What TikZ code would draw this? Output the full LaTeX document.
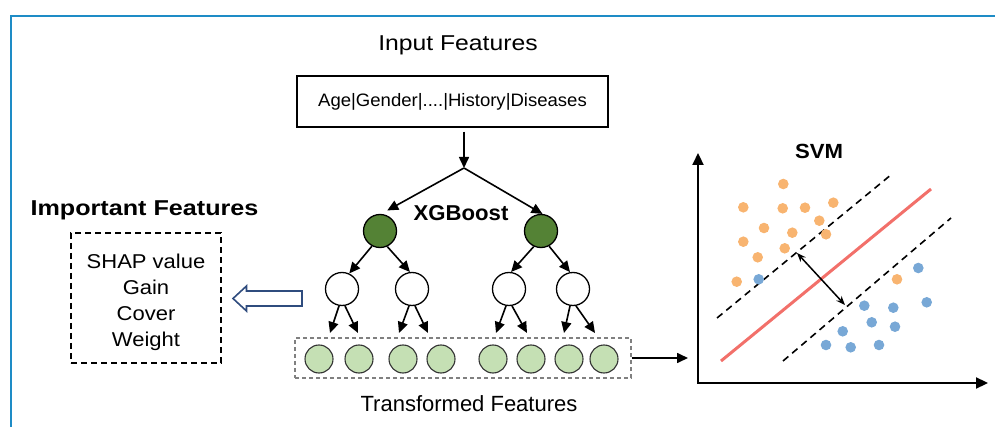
\documentclass[tikz,border=0pt]{standalone}
\usepackage{fontspec}
\usepackage{graphicx}
\setmainfont{Liberation Sans}
\usetikzlibrary{arrows.meta,calc}
\definecolor{frameblue}{HTML}{1E8CC6}
\definecolor{darkgreen}{HTML}{548235}
\definecolor{lightgreen}{HTML}{C5E0B4}
\definecolor{ptorange}{HTML}{F8B470}
\definecolor{ptblue}{HTML}{78A8D6}
\definecolor{svmred}{HTML}{F2706A}
\definecolor{navy}{HTML}{2F4C7E}
\newcommand{\myfs}[1]{\fontsize{#1}{#1}\selectfont}
\begin{document}
\begin{tikzpicture}[x=1pt,y=-1pt,
  txt/.style={inner sep=0pt},
  arr/.style={line width=1.6pt, -{Triangle[length=11pt,width=10pt]}},
  gnode/.style={circle, draw=black, line width=1.3pt, fill=darkgreen, minimum size=33pt, inner sep=0pt},
  wnode/.style={circle, draw=black, line width=1.3pt, fill=white, minimum size=33pt, inner sep=0pt},
  leaf/.style={circle, draw=black!80, line width=1.1pt, fill=lightgreen, minimum size=28pt, inner sep=0pt},
  dashline/.style={line width=1.6pt, dash pattern=on 7pt off 5pt},
]
\useasboundingbox (0,0) rectangle (995,427);
% frame
\draw[frameblue, line width=2.2pt] (11,427) -- (11,15.7) -- (995,15.7);

% input
\node[txt] (inp) at (458,45) {\myfs{21.5}\scalebox{1.15}[1]{Input Features}};
\node[draw, line width=1.5pt, minimum width=311pt, minimum height=51pt, inner sep=0pt] (ibox) at (452.5,101.5)
  {\myfs{18}\scalebox{1.03}[1]{Age|Gender|....|History|Diseases}};
\coordinate (split) at (464,168);
\draw[arr] ([yshift=-4pt]ibox.south -| split) -- (split);

% tree level 1
\node[gnode] (g1) at (380,231) {};
\node[gnode] (g2) at (541,231) {};
\node[txt] (xgb) at (461,213) {\myfs{21.5}\bfseries\scalebox{1.03}[1]{XGBoost}};
\draw[arr] (split) -- ([shift={(0,-5)}]g1.65);
\draw[arr] (split) -- (g2.85);

% tree level 2
\node[wnode] (w1) at (342,289) {};
\node[wnode] (w2) at (412,289) {};
\node[wnode] (w3) at (509,289) {};
\node[wnode] (w4) at (573,289) {};
\draw[arr] (g1.-118) -- (w1.65);
\draw[arr] (g1.-65) -- (w2.97);
\draw[arr] (g2.-115) -- (w3.83);
\draw[arr] (g2.-62) -- (w4.100);

% tips
\coordinate (t1) at (330,333);
\coordinate (t2) at (358,333);
\coordinate (t3) at (399,333);
\coordinate (t4) at (428,333);
\coordinate (t5) at (496,333);
\coordinate (t6) at (527,333);
\coordinate (t7) at (564,333);
\coordinate (t8) at (595,333);
\draw[arr] (w1.-100) -- (t1);
\draw[arr] (w1.-80) -- (t2);
\draw[arr] (w2.-100) -- (t3);
\draw[arr] (w2.-80) -- (t4);
\draw[arr] (w3.-100) -- (t5);
\draw[arr] (w3.-80) -- (t6);
\draw[arr] (w4.-100) -- (t7);
\draw[arr] (w4.-80) -- (t8);

% transformed features
\node[draw=gray, line width=1.2pt, dash pattern=on 4pt off 3pt, minimum width=336pt, minimum height=40pt, inner sep=0pt] (tf) at (463,358) {};
\node[leaf] (l1) at (319,359) {};
\node[leaf] (l2) at (359,359) {};
\node[leaf] (l3) at (403,359) {};
\node[leaf] (l4) at (441,359) {};
\node[leaf] (l5) at (493,359) {};
\node[leaf] (l6) at (531,359) {};
\node[leaf] (l7) at (569,359) {};
\node[leaf] (l8) at (604,359) {};
\node[txt] (tft) at (469,404) {\myfs{22}Transformed Features};
\coordinate (svmin) at (688,358);
\draw[arr] (tf.east) -- (svmin);

% important features
\node[txt] (imp) at (144.5,210) {\myfs{21.5}\bfseries\scalebox{1.17}[1]{Important Features}};
\node[draw, line width=1.5pt, dash pattern=on 6pt off 4pt, minimum width=150pt, minimum height=130pt, inner sep=0pt] (mbox) at (146,298) {};
\node[txt, align=center, font={\fontsize{20}{26}\selectfont}] (mtext) at (146,302)
  {\scalebox{1.1}[1]{SHAP value}\\\scalebox{1.1}[1]{Gain}\\\scalebox{1.1}[1]{Cover}\\\scalebox{1.1}[1]{Weight}};
\draw[navy, line width=1.6pt, fill=white] (233,298.5) -- (246.5,286) -- (246.5,291) -- (302,291) -- (302,306) -- (246.5,306) -- (246.5,311) -- cycle;

% SVM
\coordinate (o) at (698,383);
\coordinate (ytop) at (698,153);
\coordinate (xend) at (988,383);
\draw[line width=2.2pt, {Triangle[length=12pt,width=11pt]}-{Triangle[length=12pt,width=11pt]}] (ytop) -- (o) -- (xend);
\node[txt] (svm) at (819,151) {\myfs{20.5}\bfseries\scalebox{1.08}[1]{SVM}};
\draw[svmred, line width=3pt] (721,361) -- (931,189);
\draw[dashline] (717,318) -- (892,174);
\draw[dashline] (783,361) -- (951,218);
\foreach \p in {(783.3,184),(743.3,207.3),(782.7,208.3),(805,207.7),(833.3,202.7),(819.3,220.7),(764,228),(792.3,232.7),(826,234.3),(743.3,241.7),(784.7,248.3),(757.7,257.3),(736.7,281.7),(897,279.3)}
  \fill[ptorange] \p circle (5.3pt);
\foreach \p in {(758.7,279.3),(918.3,268),(926.7,302.3),(864.3,305.7),(893.3,307.7),(871.7,322.3),(895,326.7),(842.7,331.3),(826,345),(850.7,347.3),(879,345)}
  \fill[ptblue] \p circle (5.3pt);
\draw[line width=1.5pt, {Stealth[length=9pt,width=7pt]}-{Stealth[length=9pt,width=7pt]}] (797,253) -- (845,305);
\end{tikzpicture}
\end{document}
